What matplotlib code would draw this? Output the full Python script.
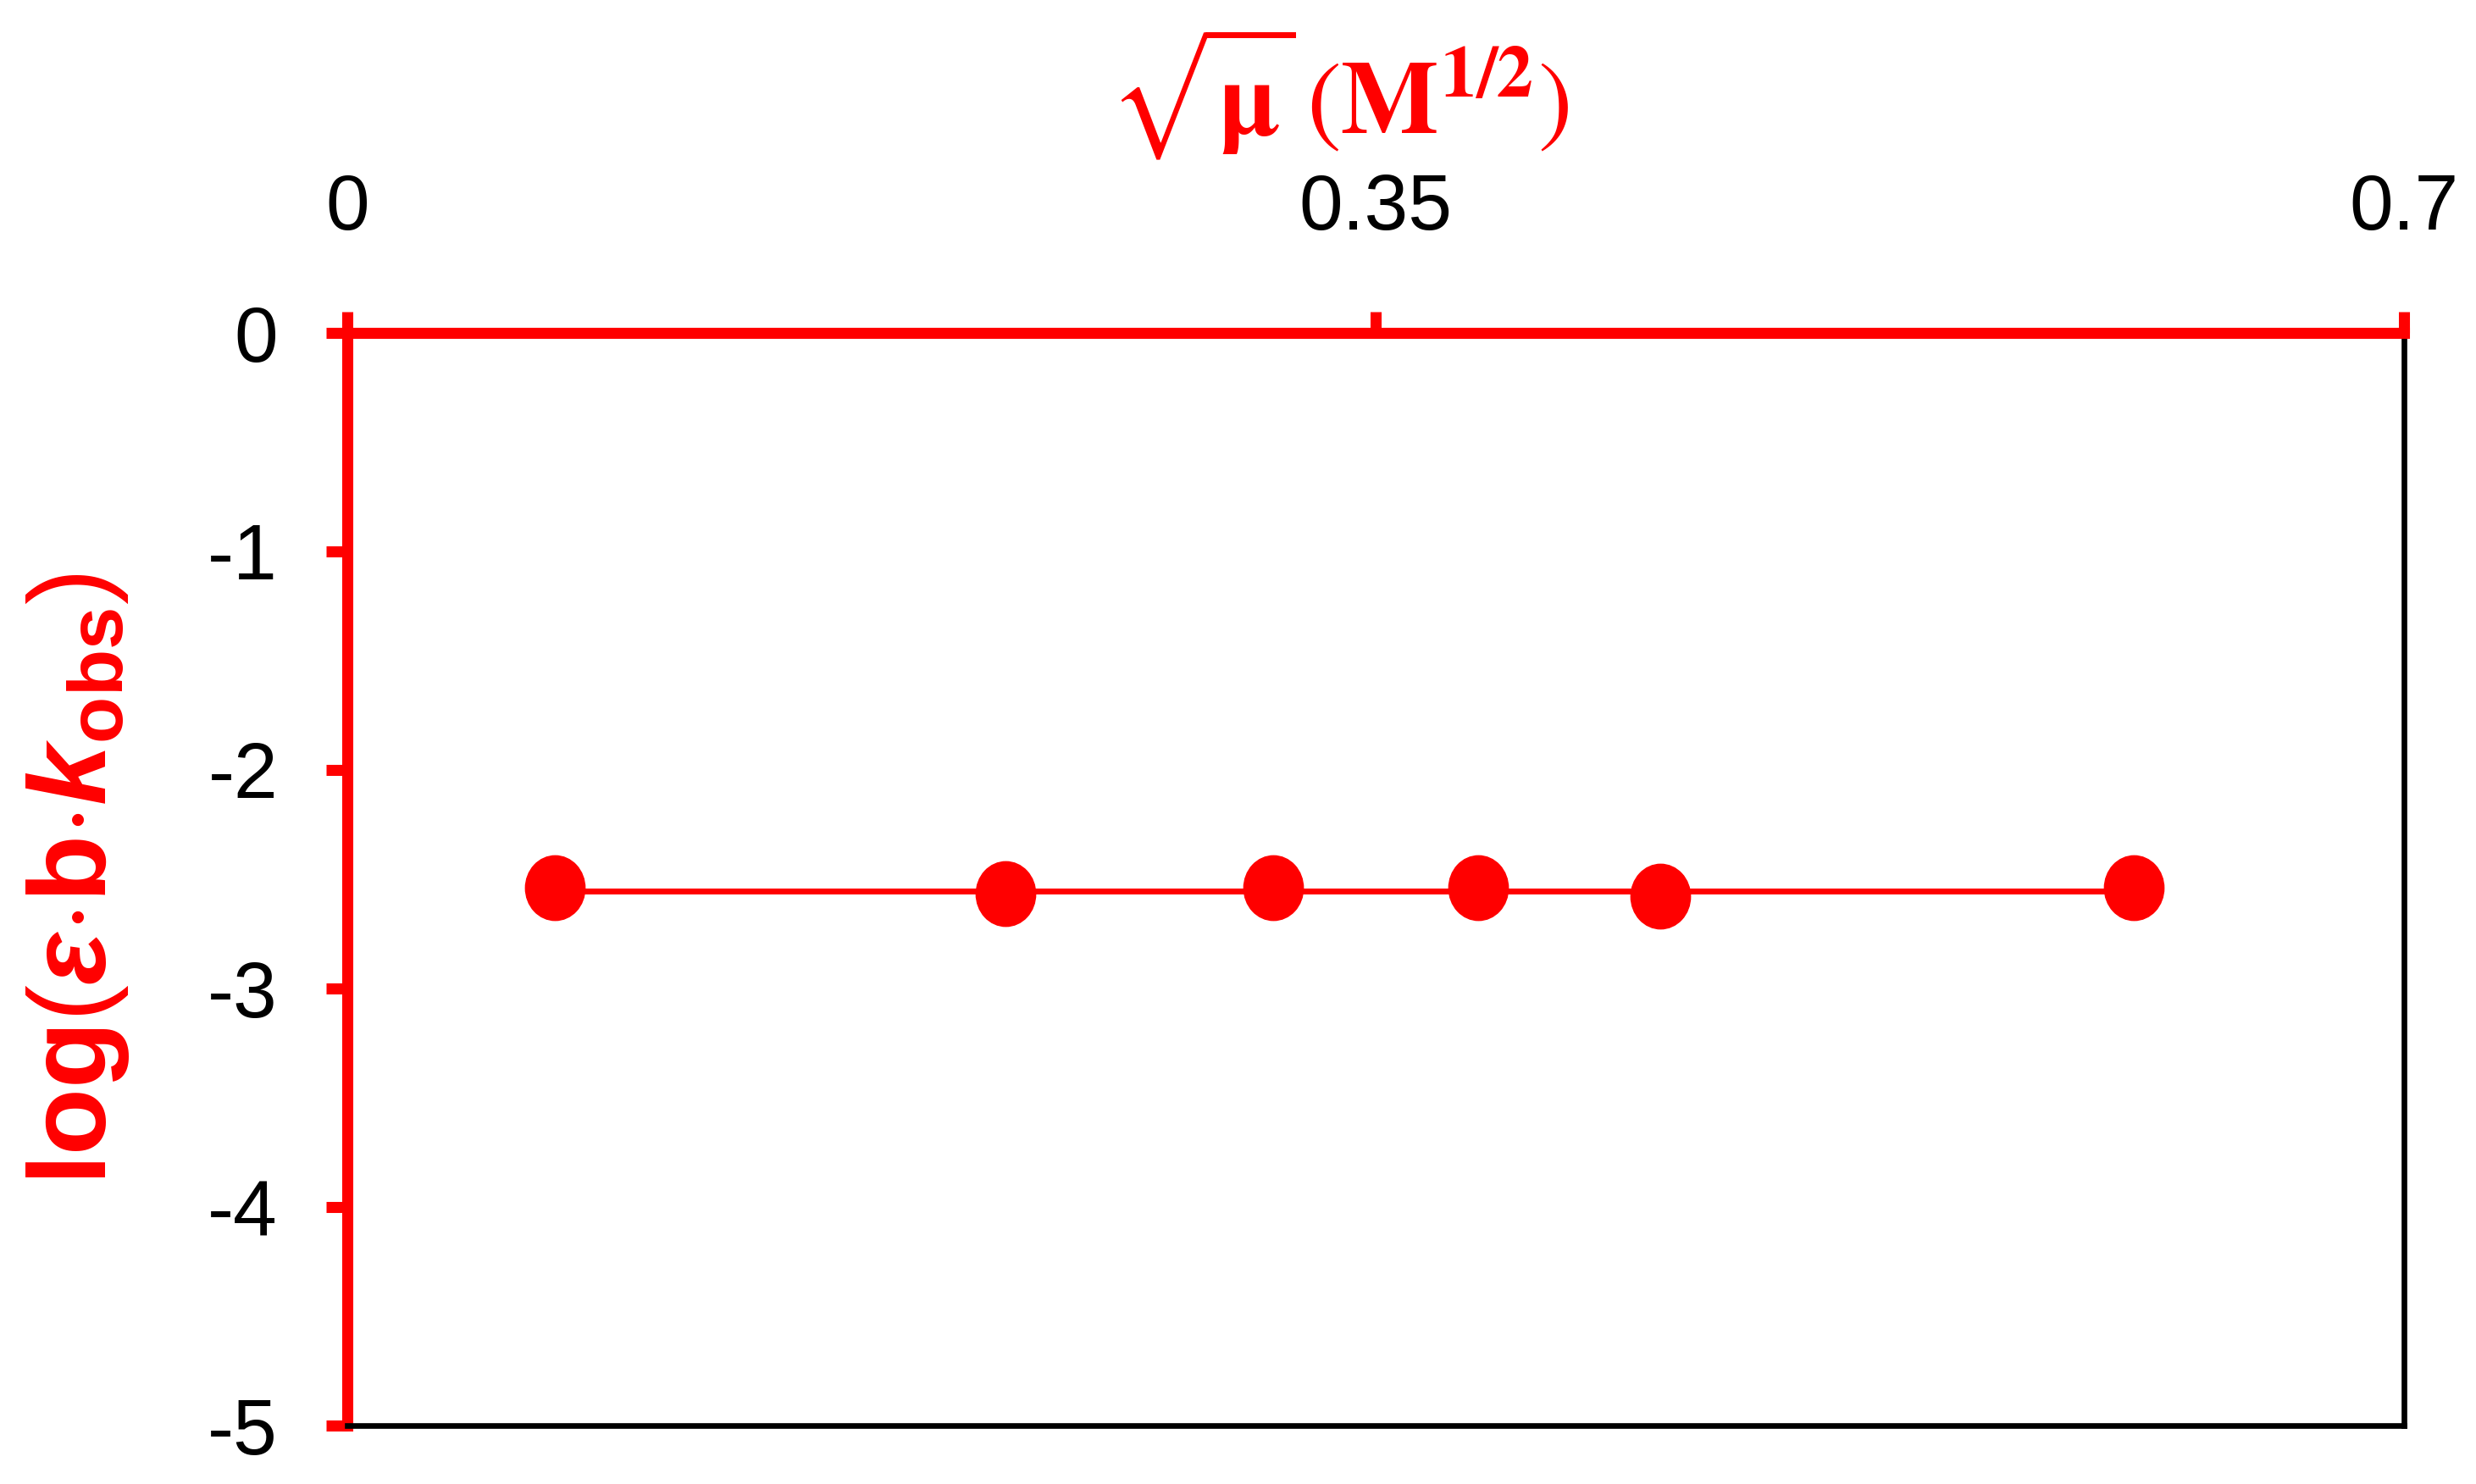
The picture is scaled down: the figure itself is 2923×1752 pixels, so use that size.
import numpy as np
import matplotlib
matplotlib.use("Agg")
import matplotlib.pyplot as plt
from matplotlib.path import Path
from matplotlib.transforms import Affine2D

# data
sqrt_mu = [0.0706, 0.224, 0.315, 0.385, 0.447, 0.608]
log_ebk = [-2.54, -2.565, -2.54, -2.54, -2.578, -2.54]
fit_x = [0.0706, 0.608]
fit_y = [-2.554, -2.554]

x_ticks = [0, 0.35, 0.7]
x_tick_labels = ["0", "0.35", "0.7"]
y_ticks = [0, -1, -2, -3, -4, -5]

plt.rcParams["font.family"] = ["Liberation Sans", "DejaVu Sans"]
plt.rcParams["axes.unicode_minus"] = False
plt.rcParams["mathtext.fontset"] = "custom"
plt.rcParams["mathtext.rm"] = "Liberation Sans:bold"
plt.rcParams["mathtext.it"] = "Liberation Sans:bold:italic"
plt.rcParams["mathtext.bf"] = "Liberation Sans:bold"
plt.rcParams["mathtext.sf"] = "Liberation Sans"

red = "#ff0000"

fig = plt.figure(figsize=(29.23, 17.52), dpi=100)
ax = fig.add_axes([410 / 2923, 1 - 1683 / 1752, 2428 / 2923, 1290 / 1752])

# slightly tall ellipse marker, like the stretched original
ellipse = Path.unit_circle().transformed(Affine2D().scale(1, 1.086))

ax.plot(fit_x, fit_y, color=red, lw=5, zorder=2)
ax.plot(sqrt_mu, log_ebk, ls="none", marker=ellipse, ms=55, color=red, zorder=3)

ax.set_xlim(0, 0.7)
ax.set_ylim(-5, 0)

ax.xaxis.tick_top()
ax.set_xticks(x_ticks)
ax.set_xticklabels(x_tick_labels)
ax.set_yticks(y_ticks)

ax.tick_params(axis="x", direction="out", length=18, width=9.4, color=red,
               labelsize=67, pad=56)
ax.tick_params(axis="y", direction="out", length=18, width=9.4, color=red,
               labelsize=67, pad=41)

ax.spines["top"].set_color(red)
ax.spines["top"].set_linewidth(9.4)
ax.spines["left"].set_color(red)
ax.spines["left"].set_linewidth(9.4)
ax.spines["bottom"].set_color("black")
ax.spines["bottom"].set_linewidth(4.8)
ax.spines["right"].set_color("black")
ax.spines["right"].set_linewidth(4.8)

ax.text(-0.131, 0.5, r"log$\mathsf{(}$$\varepsilon$$\cdot$b$\cdot$$k$$_{\rm obs}$$\mathsf{)}$",
        transform=ax.transAxes, rotation=90, ha="center", va="center",
        fontsize=93, fontweight="bold", color=red)

ax.text(0.482, 1.219, r"$\sqrt{\mathbf{\mu}}\,\left(\mathbf{M}^{\mathbf{1/2}}\right)$",
        transform=ax.transAxes, ha="center", va="center", fontsize=88, color=red,
        math_fontfamily="stix")

fig.savefig("out.png", dpi=100)
